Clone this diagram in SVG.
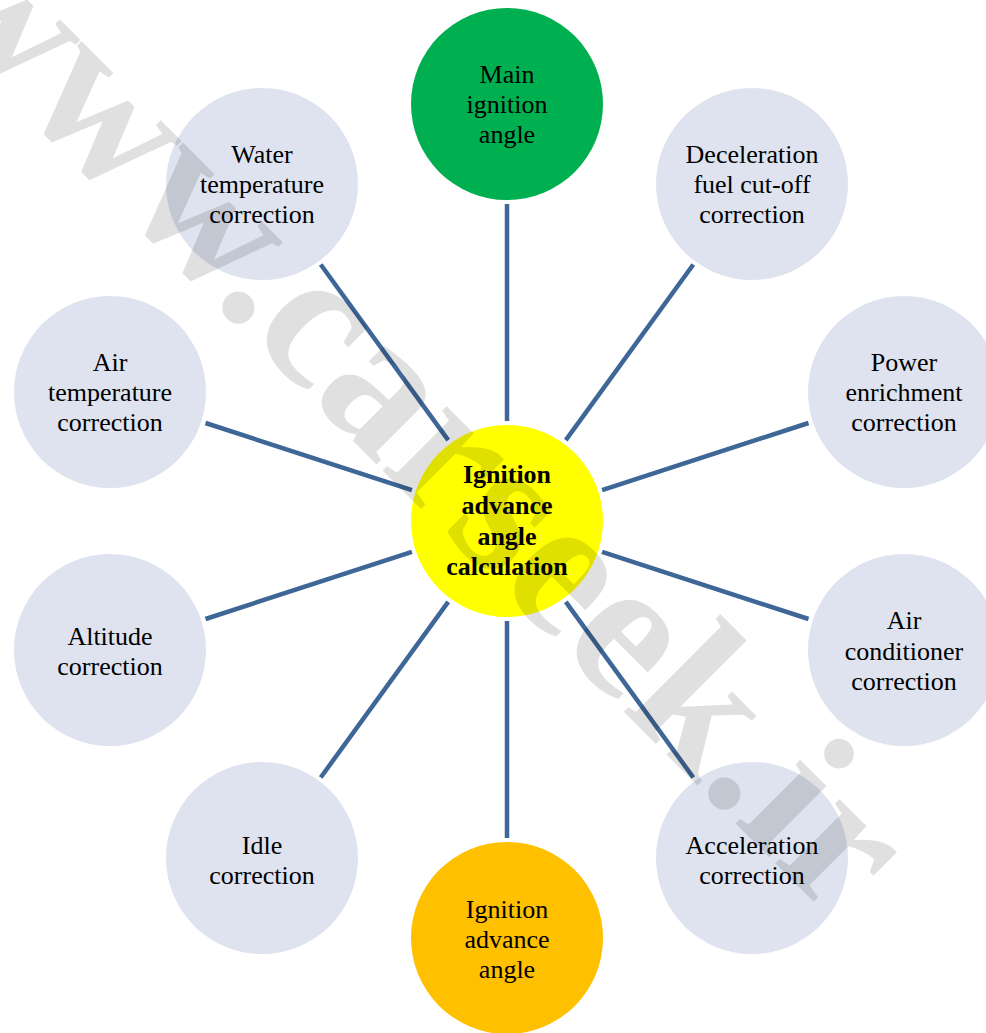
<svg xmlns="http://www.w3.org/2000/svg" width="986" height="1033" viewBox="0 0 986 1033">
<style>
.n{fill:#dee3ef}
.t{font-family:"Liberation Serif","Times New Roman",serif;font-size:26px;fill:#000;text-anchor:middle}
.b{font-weight:bold}
.c line{stroke:#3e6797;stroke-width:4.5}
.wm{font-family:"Liberation Serif","Times New Roman",serif;font-weight:bold;font-size:198px;fill:#000;fill-opacity:0.12}
</style>
<rect width="986" height="1033" fill="#fff"/>
<g id="connectors" class="c">
<line x1="507" y1="421" x2="507" y2="204"/>
<line x1="565.8" y1="440.1" x2="693.3" y2="264.5"/>
<line x1="602.1" y1="490.1" x2="808.5" y2="423"/>
<line x1="602.1" y1="551.9" x2="808.5" y2="619"/>
<line x1="565.8" y1="601.9" x2="693.3" y2="777.5"/>
<line x1="507" y1="621" x2="507" y2="838"/>
<line x1="448.2" y1="601.9" x2="320.7" y2="777.5"/>
<line x1="411.9" y1="551.9" x2="205.5" y2="619"/>
<line x1="411.9" y1="490.1" x2="205.5" y2="423"/>
<line x1="448.2" y1="440.1" x2="320.7" y2="264.5"/>
</g>
<g id="center">
<circle cx="507" cy="521" r="96" fill="#ffff00"/>
<text class="t b" x="507"><tspan x="507" y="483">Ignition</tspan><tspan x="507" y="514">advance</tspan><tspan x="507" y="545">angle</tspan><tspan x="507" y="575">calculation</tspan></text>
</g>
<g id="main">
<circle cx="507" cy="104" r="96" fill="#00b050"/>
<text class="t"><tspan x="507" y="83">Main</tspan><tspan x="507" y="113">ignition</tspan><tspan x="507" y="143">angle</tspan></text>
</g>
<g id="deceleration">
<circle class="n" cx="752" cy="184" r="96"/>
<text class="t"><tspan x="752" y="163">Deceleration</tspan><tspan x="752" y="193">fuel cut-off</tspan><tspan x="752" y="223">correction</tspan></text>
</g>
<g id="power">
<circle class="n" cx="904" cy="392" r="96"/>
<text class="t"><tspan x="904" y="371">Power</tspan><tspan x="904" y="401">enrichment</tspan><tspan x="904" y="431">correction</tspan></text>
</g>
<g id="aircon">
<circle class="n" cx="904" cy="650" r="96"/>
<text class="t"><tspan x="904" y="629">Air</tspan><tspan x="904" y="660">conditioner</tspan><tspan x="904" y="690">correction</tspan></text>
</g>
<g id="acceleration">
<circle class="n" cx="752" cy="858" r="96"/>
<text class="t"><tspan x="752" y="854">Acceleration</tspan><tspan x="752" y="884">correction</tspan></text>
</g>
<g id="result">
<circle cx="507" cy="938" r="96" fill="#ffc000"/>
<text class="t"><tspan x="507" y="918">Ignition</tspan><tspan x="507" y="948">advance</tspan><tspan x="507" y="978">angle</tspan></text>
</g>
<g id="idle">
<circle class="n" cx="262" cy="858" r="96"/>
<text class="t"><tspan x="262" y="854">Idle</tspan><tspan x="262" y="884">correction</tspan></text>
</g>
<g id="altitude">
<circle class="n" cx="110" cy="650" r="96"/>
<text class="t"><tspan x="110" y="645">Altitude</tspan><tspan x="110" y="675">correction</tspan></text>
</g>
<g id="airtemp">
<circle class="n" cx="110" cy="392" r="96"/>
<text class="t"><tspan x="110" y="371">Air</tspan><tspan x="110" y="401">temperature</tspan><tspan x="110" y="431">correction</tspan></text>
</g>
<g id="water">
<circle class="n" cx="262" cy="184" r="96"/>
<text class="t"><tspan x="262" y="163">Water</tspan><tspan x="262" y="193">temperature</tspan><tspan x="262" y="223">correction</tspan></text>
</g>
<text class="wm" transform="translate(237,325) rotate(45)" x="-454" y="0">www.carseek.ir</text>
</svg>
